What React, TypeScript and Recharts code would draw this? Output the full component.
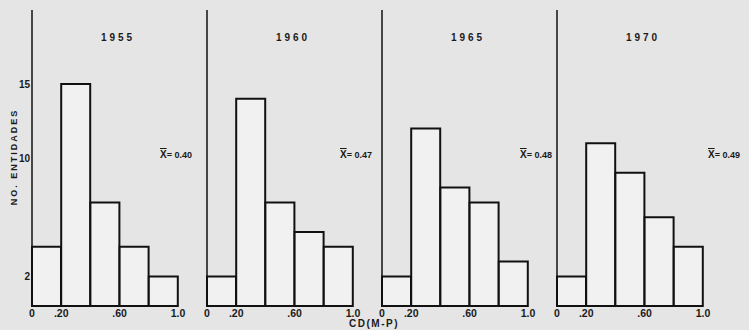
import React from "react";
import { BarChart, Bar, XAxis, YAxis } from "recharts";

const bins = ["0-.20", ".20-.40", ".40-.60", ".60-.80", ".80-1.0"];
const binStart = [0, 0.2, 0.4, 0.6, 0.8];
const years = ["1955", "1960", "1965", "1970"];
const counts1955 = [4, 15, 7, 4, 2];
const counts1960 = [2, 14, 7, 5, 4];
const counts1965 = [2, 12, 8, 7, 3];
const counts1970 = [2, 11, 9, 6, 4];
const means = ["0.40", "0.47", "0.48", "0.49"];
const xTicks = [0, 0.2, 0.6, 1.0];
const xTickLabels = ["0", ".20", ".60", "1.0"];
const yTicks = [2, 10, 15];

const allCounts = [counts1955, counts1960, counts1965, counts1970];
const panelLeft = [0, 175, 350, 525];
const meanLeft = [160, 340, 520, 708];

const font = "'Liberation Sans', Arial, sans-serif";

function fmtX(v: number) {
  const i = xTicks.findIndex((t) => Math.abs(t - v) < 1e-9);
  return i >= 0 ? xTickLabels[i] : String(v);
}

function Panel({ idx }: { idx: number }) {
  const data = bins.map((b, i) => ({ bin: b, start: binStart[i], n: allCounts[idx][i] }));
  const showY = idx === 0;
  return (
    <div style={{ position: "absolute", left: panelLeft[idx], top: 0 }}>
      <BarChart
        width={200}
        height={330}
        data={data}
        margin={{ top: 10, right: 22, left: 0, bottom: 0 }}
        barCategoryGap={0}
        barGap={0}
      >
        <XAxis
          xAxisId="num"
          dataKey="start"
          type="number"
          scale="linear"
          domain={[0, 1]}
          allowDataOverflow={true}
          ticks={xTicks}
          tickFormatter={fmtX}
          interval={0}
          height={24}
          axisLine={{ stroke: "#111", strokeWidth: 2 }}
          tickLine={false}
          tickSize={0}
          tickMargin={4}
          tick={{ fontSize: 10.5, fontWeight: 700, fill: "#1a1a1a", fontFamily: font }}
        />
        <XAxis xAxisId="cat" dataKey="bin" hide height={0} />
        <YAxis
          width={32}
          domain={[0, 20]}
          ticks={yTicks}
          interval={0}
          axisLine={{ stroke: "#111", strokeWidth: 1.5 }}
          tickLine={false}
          tickSize={0}
          tickMargin={2}
          tick={
            showY
              ? { fontSize: 10, fontWeight: 700, fill: "#1a1a1a", fontFamily: font }
              : false
          }
        />
        <Bar
          xAxisId="cat"
          dataKey="n"
          fill="#f1f1f1"
          stroke="#111"
          strokeWidth={2}
          isAnimationActive={false}
        />
      </BarChart>
    </div>
  );
}

export default function App() {
  return (
    <div
      style={{
        position: "absolute",
        left: 0,
        top: 0,
        width: 749,
        height: 330,
        background: "#e5e5e5",
        overflow: "hidden",
        fontFamily: font,
        color: "#1a1a1a",
      }}
    >
      {years.map((_, i) => (
        <Panel key={i} idx={i} />
      ))}
      {years.map((y, i) => (
        <div
          key={"t" + i}
          style={{
            position: "absolute",
            left: panelLeft[i] + 32 + 86 - 30,
            width: 60,
            top: 31,
            textAlign: "center",
            fontSize: 10,
            fontWeight: 700,
            letterSpacing: 3,
            lineHeight: "14px",
          }}
        >
          {y}
        </div>
      ))}
      {means.map((m, i) => (
        <div
          key={"m" + i}
          style={{
            position: "absolute",
            left: meanLeft[i],
            top: 148,
            fontSize: 9,
            fontWeight: 700,
            lineHeight: "14px",
            whiteSpace: "nowrap",
          }}
        >
          <span style={{ textDecoration: "overline", fontSize: 10 }}>X</span>= {m}
        </div>
      ))}
      <div
        style={{
          position: "absolute",
          left: 14 - 60,
          top: 157 - 7,
          width: 120,
          height: 14,
          textAlign: "center",
          transform: "rotate(-90deg)",
          fontSize: 9,
          fontWeight: 700,
          letterSpacing: 2,
          lineHeight: "14px",
          whiteSpace: "nowrap",
        }}
      >
        NO. ENTIDADES
      </div>
      <div
        style={{
          position: "absolute",
          left: 334,
          width: 80,
          top: 317,
          textAlign: "center",
          fontSize: 10,
          fontWeight: 700,
          letterSpacing: 1.5,
          lineHeight: "14px",
        }}
      >
        CD(M-P)
      </div>
    </div>
  );
}
